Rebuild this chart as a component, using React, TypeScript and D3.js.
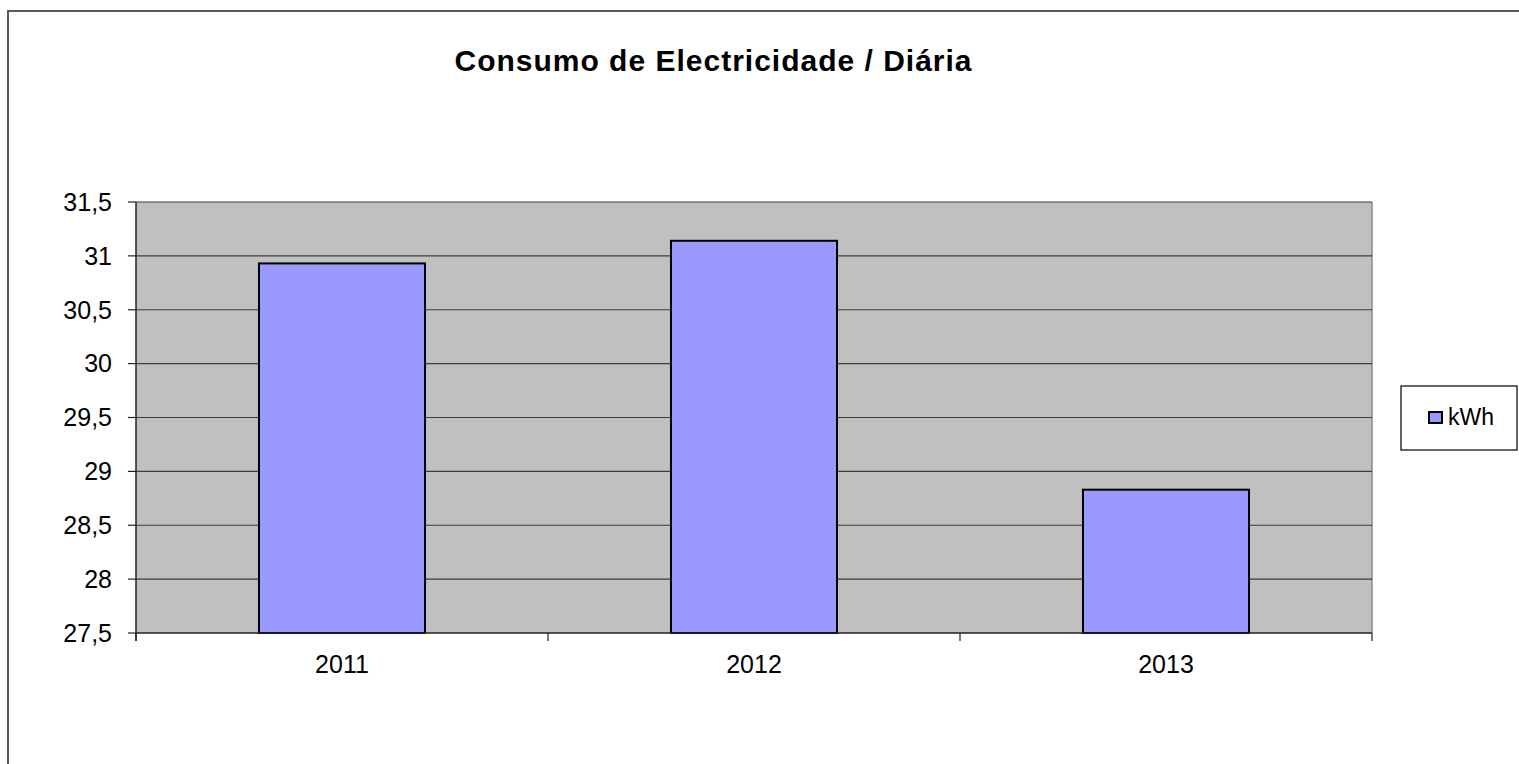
import { useEffect, useRef } from 'react'
import * as d3 from 'd3'

const years = ['2011', '2012', '2013']
const kwh = [30.93, 31.14, 28.83]
const yTicks = [27.5, 28, 28.5, 29, 29.5, 30, 30.5, 31, 31.5]
const seriesName = 'kWh'
const title = 'Consumo de Electricidade / Diária'

export default function App() {
  const ref = useRef<SVGSVGElement>(null)

  useEffect(() => {
    if (!ref.current) return
    const svg = d3.select(ref.current)
    svg.selectAll('*').remove()

    const font = '"Liberation Sans", Arial, sans-serif'
    const left = 136, right = 1372, top = 202, bottom = 633

    // cadre extérieur
    svg.append('rect')
      .attr('x', 8).attr('y', 11)
      .attr('width', 1600).attr('height', 900)
      .attr('fill', '#fff')
      .attr('stroke', '#595959')
      .attr('stroke-width', 2)

    svg.append('text')
      .attr('x', 713).attr('y', 71)
      .attr('text-anchor', 'middle')
      .attr('textLength', 517)
      .attr('lengthAdjust', 'spacing')
      .style('font-family', font)
      .style('font-size', '30px')
      .style('font-weight', 'bold')
      .text(title)

    const x = d3.scaleBand().domain(years).range([left, right]).paddingInner(0).paddingOuter(0)
    const y = d3.scaleLinear().domain([27.5, 31.5]).range([bottom, top])

    // zone de tracé
    svg.append('rect')
      .attr('x', left).attr('y', top)
      .attr('width', right - left).attr('height', bottom - top)
      .attr('fill', '#c0c0c0')

    svg.append('line')
      .attr('x1', right).attr('x2', right)
      .attr('y1', top).attr('y2', bottom)
      .attr('stroke', '#8a8a8a').attr('stroke-width', 1.5)

    // grille
    svg.selectAll('.grid')
      .data(yTicks.slice(1))
      .enter()
      .append('line')
      .attr('x1', left).attr('x2', right)
      .attr('y1', d => y(d)).attr('y2', d => y(d))
      .attr('stroke', '#3c3c3c').attr('stroke-width', 1.2)

    // barres
    const bw = x.bandwidth() * 0.403
    svg.selectAll('.bar')
      .data(kwh)
      .enter()
      .append('rect')
      .attr('x', (d, i) => (x(years[i]) || 0) + (x.bandwidth() - bw) / 2)
      .attr('y', d => y(d))
      .attr('width', bw)
      .attr('height', d => bottom - y(d))
      .attr('fill', '#9999ff')
      .attr('stroke', '#000')
      .attr('stroke-width', 2)

    // axe Y
    svg.append('line')
      .attr('x1', left).attr('x2', left)
      .attr('y1', top).attr('y2', bottom + 8)
      .attr('stroke', '#222').attr('stroke-width', 1.5)

    svg.selectAll('.ytick')
      .data(yTicks)
      .enter()
      .append('line')
      .attr('x1', left - 8).attr('x2', left)
      .attr('y1', d => y(d)).attr('y2', d => y(d))
      .attr('stroke', '#222').attr('stroke-width', 1.2)

    svg.selectAll('.ylabel')
      .data(yTicks)
      .enter()
      .append('text')
      .attr('x', 112)
      .attr('y', d => y(d))
      .attr('dy', '0.35em')
      .attr('text-anchor', 'end')
      .style('font-family', font)
      .style('font-size', '25px')
      .text(d => d3.format('')(d).replace('.', ','))

    // axe X
    svg.append('line')
      .attr('x1', left).attr('x2', right)
      .attr('y1', bottom).attr('y2', bottom)
      .attr('stroke', '#222').attr('stroke-width', 1.5)

    const bounds = [...years.map(c => x(c) || 0), right]
    svg.selectAll('.xtick')
      .data(bounds)
      .enter()
      .append('line')
      .attr('x1', d => d).attr('x2', d => d)
      .attr('y1', bottom).attr('y2', bottom + 8)
      .attr('stroke', '#222').attr('stroke-width', 1.2)

    svg.selectAll('.xlabel')
      .data(years)
      .enter()
      .append('text')
      .attr('x', d => (x(d) || 0) + x.bandwidth() / 2)
      .attr('y', 673)
      .attr('text-anchor', 'middle')
      .style('font-family', font)
      .style('font-size', '25px')
      .text(d => d)

    // légende
    const legend = svg.append('g').attr('transform', 'translate(1401,386)')
    legend.append('rect')
      .attr('width', 116).attr('height', 64)
      .attr('fill', '#fff').attr('stroke', '#000').attr('stroke-width', 1.2)
    legend.append('rect')
      .attr('x', 28).attr('y', 26)
      .attr('width', 13).attr('height', 11)
      .attr('fill', '#9999ff').attr('stroke', '#000').attr('stroke-width', 2)
    legend.append('text')
      .attr('x', 47).attr('y', 39)
      .style('font-family', font)
      .style('font-size', '23px')
      .text(seriesName)
  }, [])

  return (
    <svg
      ref={ref}
      width={1519}
      height={764}
      style={{ position: 'absolute', left: 0, top: 0, display: 'block' }}
    />
  )
}
